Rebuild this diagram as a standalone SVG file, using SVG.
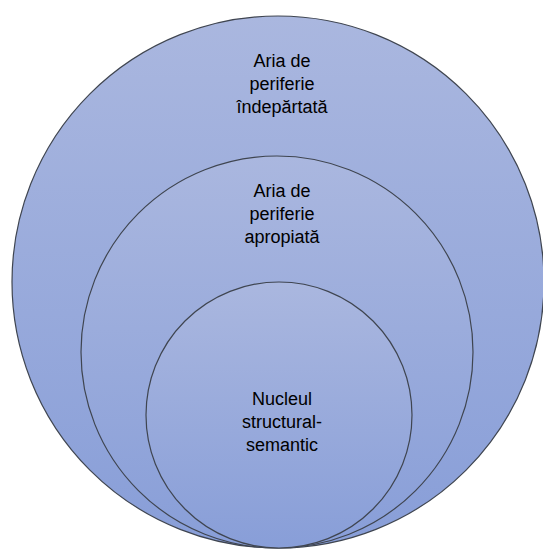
<svg xmlns="http://www.w3.org/2000/svg" width="543" height="550" viewBox="0 0 543 550">
<defs>
<linearGradient id="g" x1="0" y1="0" x2="0" y2="1">
<stop offset="0" stop-color="#aab7df"/>
<stop offset="1" stop-color="#889ed8"/>
</linearGradient>
</defs>
<style>
.c{fill:url(#g);stroke:#3f4550;stroke-width:1.2}
.t{font-family:"Liberation Sans",Arial,sans-serif;font-size:18px;fill:#000;text-anchor:middle}
</style>
<rect width="543" height="550" fill="#fff"/>
<g id="outer">
<circle class="c" cx="278" cy="282" r="266"/>
<text class="t" x="282" y="67">Aria de</text>
<text class="t" x="282" y="90">periferie</text>
<text class="t" x="282" y="113">îndepărtată</text>
</g>
<g id="middle">
<circle class="c" cx="277" cy="352" r="196"/>
<text class="t" x="282" y="197">Aria de</text>
<text class="t" x="282" y="220">periferie</text>
<text class="t" x="282" y="243">apropiată</text>
</g>
<g id="inner">
<circle class="c" cx="279" cy="415" r="133"/>
<text class="t" x="282" y="405">Nucleul</text>
<text class="t" x="282" y="428">structural-</text>
<text class="t" x="282" y="451">semantic</text>
</g>
<g id="connectors"/>
</svg>
